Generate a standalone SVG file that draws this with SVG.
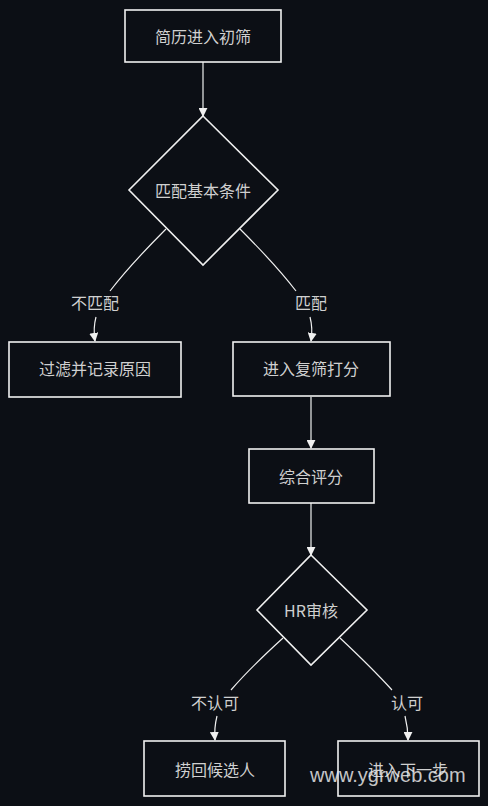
<svg xmlns="http://www.w3.org/2000/svg" width="488" height="806" viewBox="0 0 488 806">
<style>
.bg{fill:#0c0f15}
.node rect,.node polygon{fill:#0c0f15;stroke:#f0f0f0;stroke-width:1.6}
.t{font-family:"Noto Sans CJK SC","Liberation Sans",sans-serif;font-size:16px;fill:#d0d0d0;text-anchor:middle;dominant-baseline:central}
.line{fill:none;stroke:#f0f0f0;stroke-width:1.2}
.edge{fill:none;stroke:#f0f0f0;stroke-width:1.2;marker-end:url(#arr)}
.lbl{font-family:"Noto Sans CJK SC","Liberation Sans",sans-serif;font-size:16px;fill:#d0d0d0;text-anchor:middle;dominant-baseline:central}
.wm{font-family:"Liberation Sans",Arial,sans-serif;font-size:20px;fill:#e8e8e8;fill-opacity:0.85}
</style>
<defs>
<marker id="arr" viewBox="0 0 10 10" refX="9" refY="5" markerWidth="9" markerHeight="9" markerUnits="userSpaceOnUse" orient="auto">
<path d="M0,0 L10,5 L0,10 z" fill="#f0f0f0"/>
</marker>
</defs>
<rect class="bg" x="0" y="0" width="488" height="806"/>
<g id="connectors">
<path class="edge" d="M203,62 L203,116"/>
<path class="line" d="M166,229 Q130,265 110,291"/>
<path class="edge" d="M96,317 Q93,328 95,341"/>
<path class="line" d="M240,229 Q276,265 296,291"/>
<path class="edge" d="M310,317 Q313,328 311,341"/>
<path class="edge" d="M311,397 L311,448"/>
<path class="edge" d="M311,503 L311,555"/>
<path class="line" d="M283,638 Q250,668 231,690"/>
<path class="edge" d="M217,716 Q214,728 215,740"/>
<path class="line" d="M340,638 Q372,668 392,690"/>
<path class="edge" d="M405,716 Q408,728 408,740"/>
<text class="lbl" x="95" y="302">不匹配</text>
<text class="lbl" x="311" y="302">匹配</text>
<text class="lbl" x="215" y="702">不认可</text>
<text class="lbl" x="407" y="702">认可</text>
</g>
<g id="n1" class="node"><rect x="125" y="10" width="156" height="52"/><text class="t" x="203" y="36">简历进入初筛</text></g>
<g id="n2" class="node"><polygon points="203,116 278,190 203,265 129,190"/><text class="t" x="203" y="190">匹配基本条件</text></g>
<g id="n3" class="node"><rect x="9" y="342" width="172" height="55"/><text class="t" x="95" y="368">过滤并记录原因</text></g>
<g id="n4" class="node"><rect x="233" y="342" width="157" height="54"/><text class="t" x="311" y="368">进入复筛打分</text></g>
<g id="n5" class="node"><rect x="249" y="449" width="125" height="54"/><text class="t" x="311" y="476">综合评分</text></g>
<g id="n6" class="node"><polygon points="311,555 367,610 311,665 257,610"/><text class="t" x="311" y="610">HR审核</text></g>
<g id="n7" class="node"><rect x="144" y="741" width="141" height="55"/><text class="t" x="215" y="769">捞回候选人</text></g>
<g id="n8" class="node"><rect x="338" y="741" width="141" height="55"/><text class="t" x="408" y="769">进入下一步</text></g>
<text class="wm" x="310" y="782">www.ygrweb.com</text>
</svg>
